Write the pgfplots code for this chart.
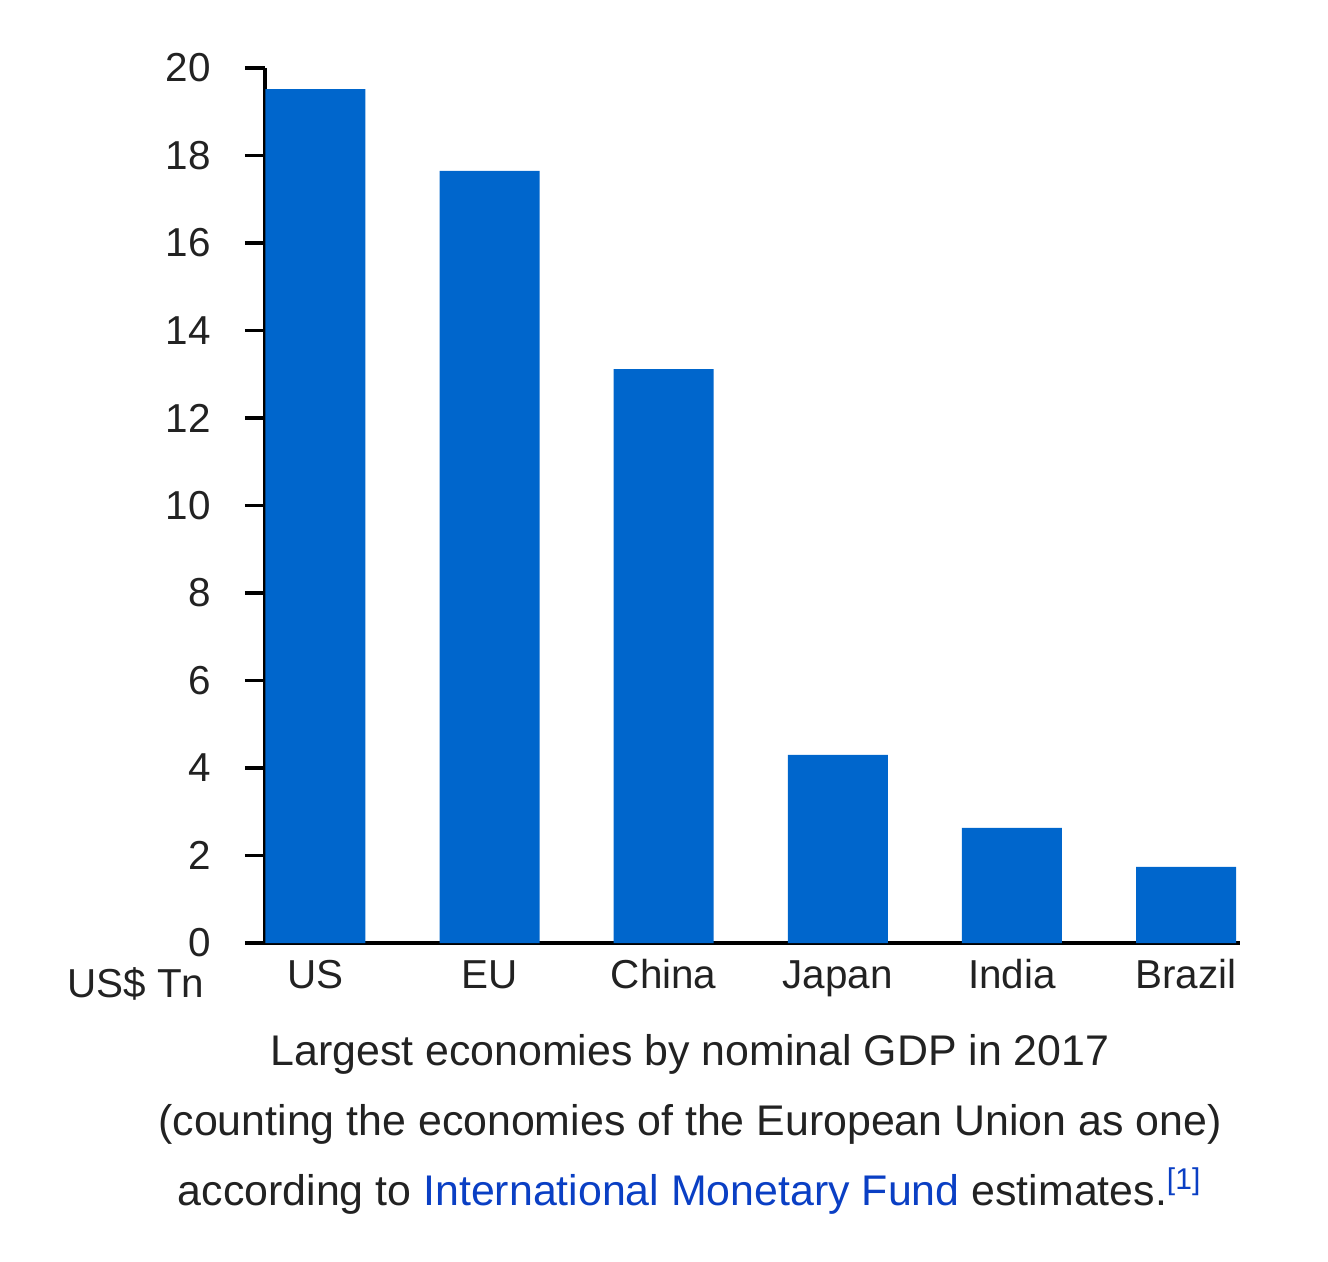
\documentclass[border=0pt]{standalone}
\usepackage{pgfplots}
\pgfplotsset{compat=1.18}
\usepackage{fontspec}
\setmainfont{Liberation Sans}

\definecolor{barblue}{HTML}{0066CC}
\definecolor{textgray}{HTML}{222222}
\definecolor{linkblue}{HTML}{0A3FC4}

\begin{document}
\begin{tikzpicture}
% page size, 1 px of the reference = 0.1 mm
\path (-26.5mm,-31.8mm) rectangle (106.3mm,94.3mm);
\begin{axis}[
    at={(0,0)}, anchor=south west,
    scale only axis,
    width=97.5mm,
    height=87.5mm,
    xmin=-0.29, xmax=5.31,
    ymin=0, ymax=20,
    axis x line=bottom,
    axis y line=left,
    axis line style={-, line width=0.4mm, black},
    ytick={0,2,...,20},
    xtick=data,
    xticklabels={US, EU, China, Japan, India, Brazil},
    tick align=outside,
    major tick length=2mm,
    ytick style={line width=0.35mm, black},
    xtick style={draw=none},
    tick label style={font=\fontsize{11.5}{13}\selectfont, text=textgray},
    yticklabel style={anchor=east, xshift=-2.2mm},
    xticklabel style={anchor=base, yshift=-2.5mm},
    /pgf/number format/assume math mode=true,
    clip=false,
]
\addplot[ybar, bar width=10mm, fill=barblue, draw=none] coordinates {
    (0,19.52) (1,17.65) (2,13.12) (3,4.30) (4,2.63) (5,1.74)
};
\end{axis}
\node[anchor=base east, text=textgray, font=\fontsize{11.5}{13}\selectfont, inner sep=0pt]
    at (-6mm,-5.4mm) {US\$ Tn};
\node[anchor=base, text=textgray, font=\fontsize{12.2}{14}\selectfont, inner sep=0pt]
    at (42.5mm,-12.2mm) {Largest economies by nominal GDP in 2017};
\node[anchor=base, text=textgray, font=\fontsize{12.2}{14}\selectfont, inner sep=0pt]
    at (42.5mm,-19.2mm) {(counting the economies of the European Union as one)};
\node[anchor=base, text=textgray, font=\fontsize{12.2}{14}\selectfont, inner sep=0pt]
    at (42.5mm,-26.2mm) {according to \textcolor{linkblue}{International Monetary Fund} estimates.\textcolor{linkblue}{\textsuperscript{[1]}}};
\end{tikzpicture}
\end{document}
